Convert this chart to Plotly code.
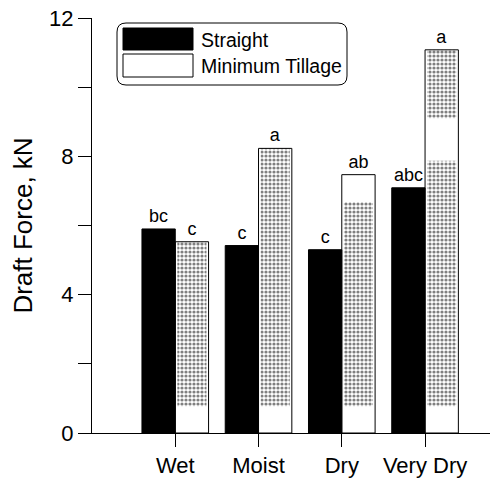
import plotly.graph_objects as go

# conditions and bar heights (kN)
conditions = ["Wet", "Moist", "Dry", "Very Dry"]
straight = [5.9, 5.42, 5.3, 7.09]
min_tillage = [5.53, 8.23, 7.47, 11.08]
straight_letters = ["bc", "c", "c", "abc"]
tillage_letters = ["c", "a", "ab", "a"]

# dotted (stippled) parts of the minimum tillage bars
dot_low_base = [0.77, 0.77, 0.77, 0.77]
dot_low_top = [5.53, 8.23, 6.68, 7.87]
dot_high_base = [None, None, None, 9.1]
dot_high_top = [None, None, None, 11.08]

xpos = list(range(len(conditions)))
FONT = "Liberation Sans, Arial, Helvetica, sans-serif"

# the page puts the figure 8px in from the top-left corner
OFF = 8
W, H = 498 - OFF, 478 - OFF
# pixel geometry of the plot area, in window pixels
L, R, T, B = 92, 490, 18, 433


def px(x):
    return (x - L) / (R - L)


def py(y):
    return (B - y) / (B - T)


def seg(base, top):
    b = [v if v is not None else 0 for v in base]
    h = [(t - v) if (t is not None and v is not None) else 0 for v, t in zip(base, top)]
    return b, h


fig = go.Figure()

fig.add_trace(go.Bar(
    x=xpos, y=straight, offset=-0.4, width=0.4,
    marker=dict(color="black", line=dict(color="black", width=1)),
    text=straight_letters, textposition="outside", constraintext="none",
    textfont=dict(size=18, color="black", family=FONT),
    cliponaxis=False, showlegend=False,
))

for base, top in [(dot_low_base, dot_low_top), (dot_high_base, dot_high_top)]:
    b, h = seg(base, top)
    fig.add_trace(go.Bar(
        x=xpos, y=h, base=b, offset=0.025, width=0.35,
        marker=dict(color="white", line=dict(width=0),
                    pattern=dict(shape=".", size=4, solidity=0.5,
                                 fgcolor="black", bgcolor="white")),
        showlegend=False,
    ))

fig.add_trace(go.Bar(
    x=xpos, y=min_tillage, offset=0, width=0.4,
    marker=dict(color="rgba(0,0,0,0)", line=dict(color="black", width=1)),
    text=tillage_letters, textposition="outside", constraintext="none",
    textfont=dict(size=18, color="black", family=FONT),
    cliponaxis=False, showlegend=False,
))

# hand-drawn legend with rounded frame
x0, x1, y0, y1, r = 117, 347, 23, 85, 9
path = (
    f"M {px(x0 + r)} {py(y0)} L {px(x1 - r)} {py(y0)} "
    f"Q {px(x1)} {py(y0)} {px(x1)} {py(y0 + r)} L {px(x1)} {py(y1 - r)} "
    f"Q {px(x1)} {py(y1)} {px(x1 - r)} {py(y1)} L {px(x0 + r)} {py(y1)} "
    f"Q {px(x0)} {py(y1)} {px(x0)} {py(y1 - r)} L {px(x0)} {py(y0 + r)} "
    f"Q {px(x0)} {py(y0)} {px(x0 + r)} {py(y0)} Z"
)
shapes = [
    dict(type="path", xref="paper", yref="paper", path=path,
         line=dict(color="black", width=1), fillcolor="white", layer="above"),
    dict(type="rect", xref="paper", yref="paper", x0=px(123), x1=px(193),
         y0=py(28), y1=py(50), fillcolor="black", line=dict(color="black", width=1), layer="above"),
    dict(type="rect", xref="paper", yref="paper", x0=px(123), x1=px(193),
         y0=py(54), y1=py(77), fillcolor="white", line=dict(color="black", width=1), layer="above"),
]
annotations = [
    dict(xref="paper", yref="paper", x=px(199), y=py(40), text="Straight",
         showarrow=False, xanchor="left", yanchor="middle",
         font=dict(size=19.5, color="black", family=FONT)),
    dict(xref="paper", yref="paper", x=px(199), y=py(66), text="Minimum Tillage",
         showarrow=False, xanchor="left", yanchor="middle",
         font=dict(size=19.5, color="black", family=FONT)),
]

fig.update_layout(
    width=W, height=H,
    margin=dict(l=L - OFF, r=W + OFF - R, t=T - OFF, b=H + OFF - B),
    paper_bgcolor="white", plot_bgcolor="white",
    barmode="overlay",
    font=dict(family=FONT, size=22, color="black"),
    shapes=shapes, annotations=annotations,
    showlegend=False,
)
fig.update_xaxes(
    range=[-1.0, 3.78], tickvals=xpos, ticktext=conditions,
    showline=True, linecolor="black", linewidth=1,
    ticks="outside", ticklen=13, tickcolor="black",
    showgrid=False, zeroline=False, automargin=False,
    ticklabeloverflow="allow",
)
fig.update_yaxes(
    range=[0, 12], tickvals=[0, 4, 8, 12],
    showline=True, linecolor="black", linewidth=1,
    ticks="outside", ticklen=13, tickcolor="black",
    minor=dict(tickvals=[2, 6, 10], ticks="outside", ticklen=13, tickcolor="black"),
    showgrid=False, zeroline=False, automargin=False,
    ticklabeloverflow="allow",
    title=dict(text="Draft Force, kN", standoff=13),
)

fig.write_html("out.html")
